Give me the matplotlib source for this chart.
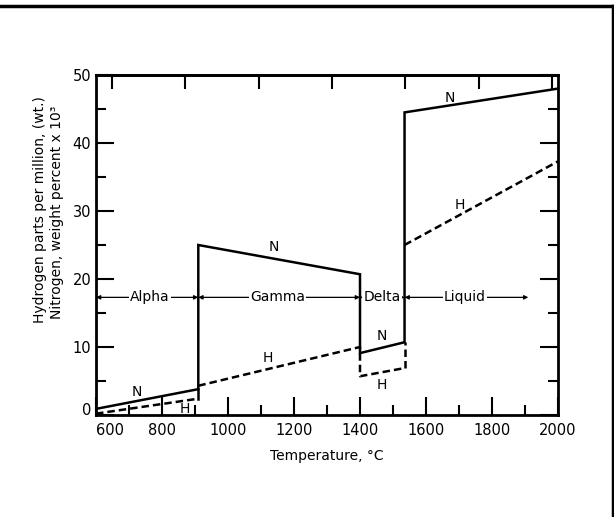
import numpy as np
import matplotlib.pyplot as plt
from matplotlib.lines import Line2D

# 数据：各相区的温度端点 (°C) 与含量
alpha_T = [600, 910]
gamma_T = [910, 1400]
delta_T = [1400, 1535]
liquid_T = [1535, 2000]

N_alpha = [0.9, 3.8]
N_gamma = [25.0, 20.7]
N_delta = [9.1, 10.7]
N_liquid = [44.5, 48.0]

H_alpha = [0.2, 2.4]
H_gamma = [4.3, 10.0]
H_delta = [5.7, 6.9]
H_liquid = [25.0, 37.3]

phases = ['Alpha', 'Gamma', 'Delta', 'Liquid']
phase_edges = [600, 910, 1400, 1535, 1910]
phase_label_x = [763, 1150, 1467, 1718]
phase_y = 17.3

# 曲线上的 N / H 标注
n_label_x = [724, 1140, 1467, 1673]
n_label_y = [3.4, 24.7, 11.6, 46.6]
h_label_x = [870, 1121, 1467, 1703]
h_label_y = [0.9, 8.4, 4.4, 30.9]

top_ticks_F = [1200, 1600, 2000, 2400, 2800, 3200, 3600]

plt.rcParams['font.family'] = ['DejaVu Sans']

fig = plt.figure(figsize=(6.14, 5.17), dpi=100)
ax = fig.add_axes([96 / 614, 102 / 517, 462 / 614, 340 / 517])

lw = 1.8
# N 实线
N_T = alpha_T + gamma_T + delta_T + liquid_T
N_all = N_alpha + N_gamma + N_delta + N_liquid
ax.plot(N_T, N_all, color='black', lw=lw, solid_joinstyle='miter')
ax.plot([alpha_T[-1]] * 2, [H_alpha[-1], N_alpha[-1]], color='black', lw=lw)

# H 虚线
dash = dict(color='black', lw=lw, linestyle=(0, (3, 1.6)))
ax.plot(alpha_T, H_alpha, **dash)
ax.plot(gamma_T + delta_T, H_gamma + H_delta, **dash)
ax.plot([delta_T[-1]] * 2, [H_delta[-1], N_delta[-1]], **dash)
ax.plot(liquid_T, H_liquid, **dash)

for x, y in zip(n_label_x, n_label_y):
    ax.text(x, y, 'N', ha='center', va='center', fontsize=10)
for x, y in zip(h_label_x, h_label_y):
    ax.text(x, y, 'H', ha='center', va='center', fontsize=10)

# 相区箭头
for i, name in enumerate(phases):
    ax.annotate('', xy=(phase_edges[i], phase_y), xytext=(phase_edges[i + 1], phase_y),
                arrowprops=dict(arrowstyle='<|-|>', color='black', lw=0.9,
                                mutation_scale=6, shrinkA=0, shrinkB=0))
    ax.text(phase_label_x[i], phase_y, name, ha='center', va='center', fontsize=10,
            bbox=dict(facecolor='white', edgecolor='none', pad=1.0))

ax.set_xlim(600, 2000)
ax.set_ylim(0, 50)
ax.set_xticks(np.arange(600, 2001, 200))
ax.set_xticks(np.arange(700, 2000, 200), minor=True)
ax.set_yticks(np.arange(0, 51, 10))
ax.set_yticks(np.arange(5, 50, 10), minor=True)
ax.tick_params(which='both', direction='in', width=1.5, labelsize=10.5,
               right=True, top=False)
ax.tick_params(axis='x', pad=6)
ax.tick_params(which='major', length=13)
ax.tick_params(which='minor', length=7)
for s in ax.spines.values():
    s.set_linewidth(2)

# 600 和 0 错开，避免重叠
ax.get_xticklabels()[0].set_horizontalalignment('left')
ax.get_yticklabels()[0].set_verticalalignment('baseline')

# 顶部华氏刻度（无标签）
sec = ax.secondary_xaxis('top', functions=(lambda c: c * 9 / 5 + 32,
                                           lambda f: (f - 32) * 5 / 9))
sec.set_xticks(top_ticks_F)
sec.tick_params(direction='in', length=10, width=1.5, labeltop=False)
sec.spines['top'].set_linewidth(2)

ax.set_xlabel('Temperature, °C', fontsize=10, labelpad=8)
fig.text(40 / 614, 1 - 210 / 517, 'Hydrogen parts per million, (wt.)',
         rotation=90, ha='center', va='center', fontsize=10)
fig.text(57 / 614, 1 - 212 / 517, 'Nitrogen, weight percent x 10³',
         rotation=90, ha='center', va='center', fontsize=10)

# 图片外框（上边与右边）
fig.add_artist(Line2D([0, 612.5 / 614], [1 - 6 / 517] * 2, color='black', lw=2.5,
                      transform=fig.transFigure))
fig.add_artist(Line2D([612.5 / 614] * 2, [0, 1 - 6 / 517], color='black', lw=2.5,
                      transform=fig.transFigure))

fig.savefig('out.png', dpi=100)
